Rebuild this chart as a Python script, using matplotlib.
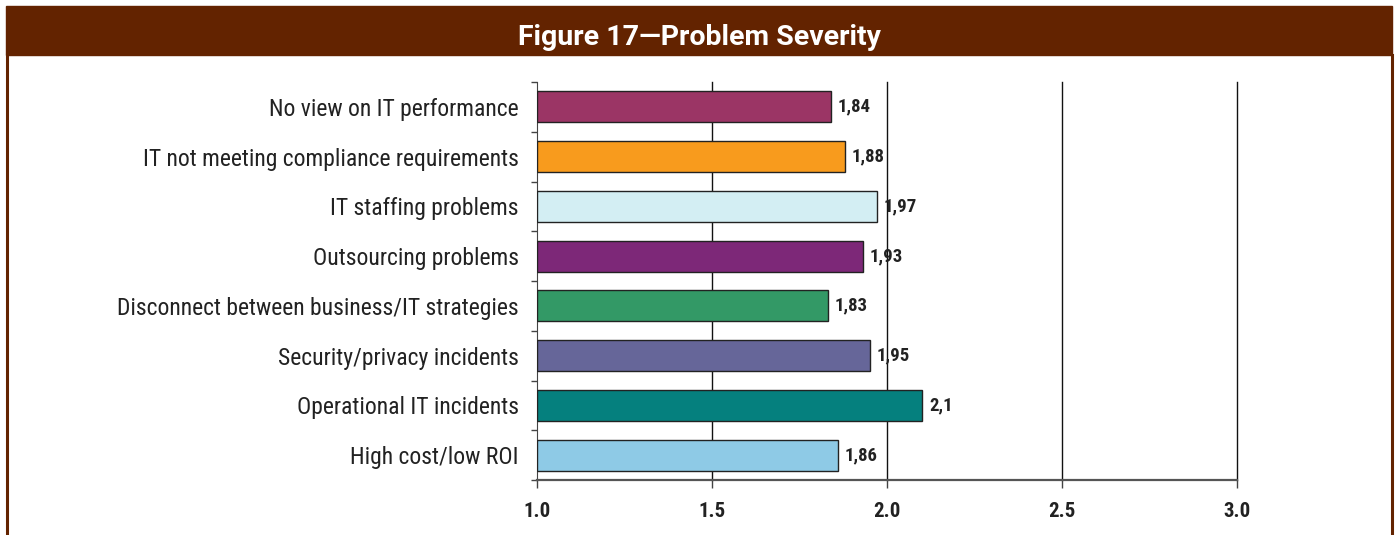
import matplotlib
matplotlib.use("Agg")
import matplotlib.pyplot as plt
from matplotlib.patches import Rectangle
from matplotlib.lines import Line2D

# Problem severity scores (mean rating per problem area)
categories = [
    "No view on IT performance",
    "IT not meeting compliance requirements",
    "IT staffing problems",
    "Outsourcing problems",
    "Disconnect between business/IT strategies",
    "Security/privacy incidents",
    "Operational IT incidents",
    "High cost/low ROI",
]
values = [1.84, 1.88, 1.97, 1.93, 1.83, 1.95, 2.1, 1.86]
value_labels = ["1,84", "1,88", "1,97", "1,93", "1,83", "1,95", "2,1", "1,86"]
colors = ["#9B3565", "#F89B1D", "#D3EEF3", "#7D2878", "#339966",
          "#666699", "#05807E", "#8ECAE6"]
xticks = [1.0, 1.5, 2.0, 2.5, 3.0]
xtick_labels = ["1.0", "1.5", "2.0", "2.5", "3.0"]
title = "Figure 17\u2014Problem Severity"

plt.rcParams["font.family"] = ["Roboto Condensed", "DejaVu Sans"]

brown = "#632300"
fig = plt.figure(figsize=(13.98, 5.35), dpi=100)
W, H = 1398, 535


def fx(px):
    return px / W


def fy(py):
    return 1 - py / H


# header band and frame
fig.patches.append(Rectangle((fx(6), fy(55)), fx(1392 - 6), 49 / H,
                             transform=fig.transFigure, color=brown, zorder=0))
fig.lines.append(Line2D([fx(7), fx(7)], [fy(55), 0], transform=fig.transFigure,
                        color=brown, lw=2.2))
fig.lines.append(Line2D([fx(1392), fx(1392)], [fy(55), 0], transform=fig.transFigure,
                        color=brown, lw=2.2))
fig.text(fx(700), fy(45), title, color="white", fontsize=20.5, fontweight="bold",
         family=["Roboto", "DejaVu Sans"], ha="center", va="baseline")

ax = fig.add_axes([fx(537), fy(480), fx(1237 - 537), (480 - 82) / H])
n = len(categories)
pos = list(range(n))
ax.barh(pos, [v - 1.0 for v in values], left=1.0, height=0.62, color=colors,
        edgecolor="#222222", linewidth=1.0, zorder=3)

for p, v, lab in zip(pos, values, value_labels):
    ax.annotate(lab, (v, p), xytext=(5, 0), textcoords="offset points",
                ha="left", va="center", fontsize=13.5, fontweight="bold",
                color="#222222")

ax.set_xlim(1.0, 3.0)
ax.set_ylim(n - 0.5, -0.5)
ax.set_xticks(xticks)
ax.set_xticklabels(xtick_labels, fontsize=15, fontweight="bold", color="#222222")
ax.tick_params(axis="x", length=6, width=1, color="#444444", pad=10)

# boundary ticks on the major locator, category names on the minor one
ax.set_yticks([i - 0.5 for i in range(n + 1)])
ax.set_yticklabels([])
ax.tick_params(axis="y", which="major", length=4, width=1, color="#444444")
ax.set_yticks(pos, minor=True)
ax.set_yticklabels(categories, minor=True, fontsize=17, color="#222222")
ax.tick_params(axis="y", which="minor", length=0, pad=13)

for x in xticks[1:]:
    ax.axvline(x, color="#111111", lw=1.0, zorder=1, clip_on=False)

for s in ("top", "right"):
    ax.spines[s].set_visible(False)
ax.spines["left"].set_color("#444444")
ax.spines["bottom"].set_color("#555555")
ax.spines["bottom"].set_linewidth(1.6)

fig.savefig("out.png", dpi=100)
